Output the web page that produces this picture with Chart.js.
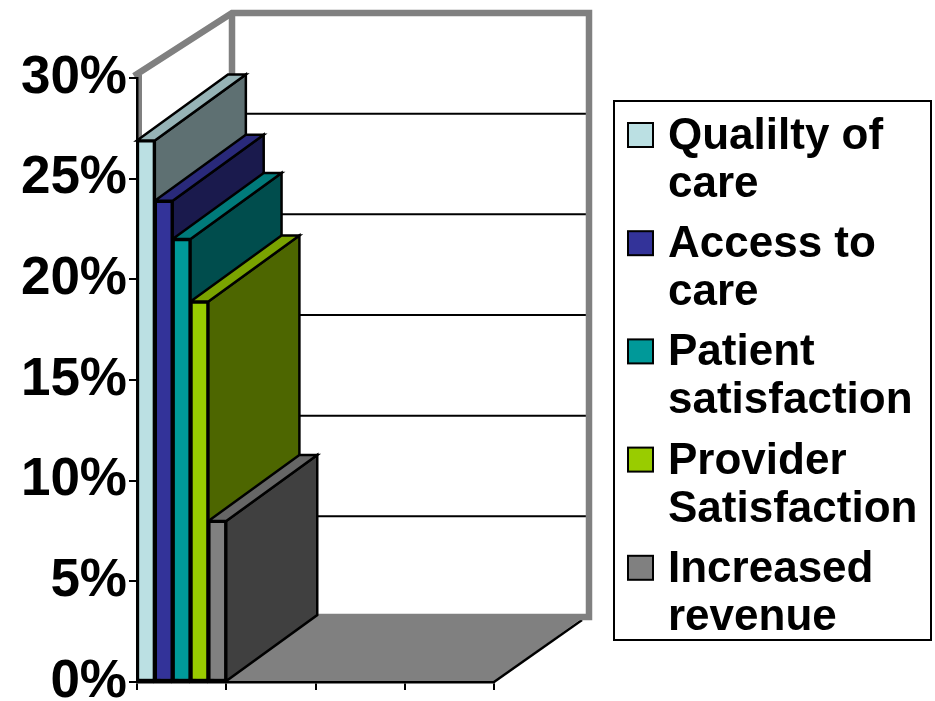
<!DOCTYPE html>
<html>
<head>
<meta charset="utf-8">
<title>3D bar chart</title>
<script src="https://cdn.jsdelivr.net/npm/chart.js@4"></script>
<style>
    html, body { margin: 0; padding: 0; background: #fff; }
    canvas { display: block; }
</style>
</head>
<body>
<canvas id="chart" width="935" height="701"></canvas>
<script>
const categories = ['', '', '', ''];
const seriesNames = ['Qualilty of care', 'Access to care', 'Patient satisfaction', 'Provider Satisfaction', 'Increased revenue'];
const seriesValues = [26.9, 23.9, 22, 18.9, 8];
const seriesColors = ['#BBE0E3', '#333399', '#009999', '#99CC00', '#808080'];
const legendLines = [['Qualilty of', 'care'], ['Access to', 'care'], ['Patient', 'satisfaction'], ['Provider', 'Satisfaction'], ['Increased', 'revenue']];

const FONT = '"Liberation Sans", Arial, sans-serif';
const BAR_DEPTH = { x: 91, y: -66 };
const WALL_DEPTH = { x: 95, y: -65 };
const WALL_GRAY = '#808080';

// darken a #rrggbb colour for the top and side faces
const shade = (hex, f) => {
    const n = parseInt(hex.slice(1), 16);
    const c = [n >> 16, (n >> 8) & 255, n & 255].map(v => Math.round(v * f));
    return `rgb(${c[0]}, ${c[1]}, ${c[2]})`;
};

const face = (ctx, pts, fill, stroke) => {
    ctx.beginPath();
    pts.forEach((p, i) => i ? ctx.lineTo(p[0], p[1]) : ctx.moveTo(p[0], p[1]));
    ctx.closePath();
    ctx.fillStyle = fill;
    ctx.fill();
    if (stroke) {
        ctx.lineWidth = 2.5;
        ctx.lineJoin = 'miter';
        ctx.strokeStyle = stroke;
        ctx.stroke();
    }
};

const box3d = {
    id: 'box3d',
    // walls, floor and the depth faces go under the native bars
    beforeDraw(chart) {
        const { ctx, scales: { x, y } } = chart;
        const left = x.left, right = x.right, base = y.bottom;
        const wallLeft = left + WALL_DEPTH.x, wallRight = right + WALL_DEPTH.x;
        ctx.save();

        face(ctx, [[left, base], [right, base], [right + BAR_DEPTH.x, base + BAR_DEPTH.y], [wallLeft, base + WALL_DEPTH.y]], WALL_GRAY);

        ctx.strokeStyle = '#000';
        ctx.lineWidth = 2;
        y.ticks.forEach(t => {
            if (t.value === 0 || t.value === y.max) return;
            const py = y.getPixelForValue(t.value) + WALL_DEPTH.y;
            ctx.beginPath();
            ctx.moveTo(wallLeft, py);
            ctx.lineTo(wallRight, py);
            ctx.stroke();
        });

        ctx.lineWidth = 2.5;
        ctx.beginPath();
        ctx.moveTo(right, base);
        ctx.lineTo(right + 88, base - 62);
        ctx.stroke();

        const wallTop = y.top + WALL_DEPTH.y, wallBottom = base + WALL_DEPTH.y;
        ctx.strokeStyle = WALL_GRAY;
        ctx.lineWidth = 6.5;
        ctx.lineJoin = 'miter';
        ctx.beginPath();
        ctx.moveTo(left - 3, y.top - 2);
        ctx.lineTo(wallLeft, wallTop);
        ctx.lineTo(wallRight, wallTop);
        ctx.lineTo(wallRight, wallBottom);
        ctx.lineTo(wallLeft, wallBottom);
        ctx.moveTo(wallLeft, wallTop);
        ctx.lineTo(wallLeft, wallBottom);
        ctx.stroke();

        // left wall edge beside the axis
        ctx.lineWidth = 5;
        ctx.beginPath();
        ctx.moveTo(left + 2.5, base);
        ctx.lineTo(left + 2.5, y.top - 3);
        ctx.stroke();

        seriesColors.forEach((color, i) => {
            const bar = chart.getDatasetMeta(i).data[0];
            const x0 = bar.x - bar.width / 2, x1 = bar.x + bar.width / 2;
            const dx = BAR_DEPTH.x, dy = BAR_DEPTH.y;
            face(ctx, [[x1, bar.y], [x1 + dx, bar.y + dy], [x1 + dx, bar.base + dy], [x1, bar.base]], shade(color, 0.5), '#000');
            face(ctx, [[x0, bar.y], [x1, bar.y], [x1 + dx, bar.y + dy], [x0 + dx, bar.y + dy]], shade(color, 0.8), '#000');
        });
        ctx.restore();
    },
    // legend box with wrapped labels
    afterDraw(chart) {
        const { ctx } = chart;
        ctx.save();
        ctx.lineWidth = 2;
        ctx.strokeStyle = '#000';
        ctx.strokeRect(614, 101, 317, 539);
        ctx.font = `bold 44px ${FONT}`;
        ctx.textBaseline = 'alphabetic';
        ctx.textAlign = 'left';
        legendLines.forEach((lines, i) => {
            const top = 123 + i * 108.2;
            ctx.fillStyle = seriesColors[i];
            ctx.fillRect(628, top, 25, 24);
            ctx.strokeRect(628, top, 25, 24);
            ctx.fillStyle = '#000';
            lines.forEach((line, j) => ctx.fillText(line, 668, top + 26 + j * 48));
        });
        ctx.restore();
    }
};

new Chart(document.getElementById('chart'), {
    type: 'bar',
    data: {
        labels: categories,
        datasets: seriesNames.map((name, i) => ({
            label: name,
            data: [seriesValues[i]],
            backgroundColor: seriesColors[i],
            borderColor: '#000',
            borderWidth: 2.5,
            borderSkipped: false,
            categoryPercentage: 1,
            barPercentage: 1
        }))
    },
    options: {
        responsive: false,
        animation: false,
        layout: { padding: { top: 78, right: 441, bottom: 0, left: 0 } },
        plugins: {
            legend: { display: false },
            tooltip: { enabled: false }
        },
        scales: {
            x: {
                afterFit: s => { s.height = 19; },
                grid: { drawOnChartArea: false, color: '#000', lineWidth: 2, tickLength: 8 },
                border: { color: '#000', width: 2.5 },
                ticks: { display: false }
            },
            y: {
                min: 0,
                max: 30,
                // the big tick labels must not push the plot area in
                afterFit: s => { s.width = 137; s.paddingTop = 0; s.paddingBottom = 0; },
                grid: { drawOnChartArea: false, color: '#000', lineWidth: 2, tickLength: 8 },
                border: { color: '#000', width: 2.5 },
                ticks: {
                    stepSize: 5,
                    padding: 2,
                    color: '#000',
                    font: { family: FONT, size: 53, weight: 'bold' },
                    callback: v => v + '%'
                }
            }
        }
    },
    plugins: [box3d]
});
</script>
</body>
</html>
